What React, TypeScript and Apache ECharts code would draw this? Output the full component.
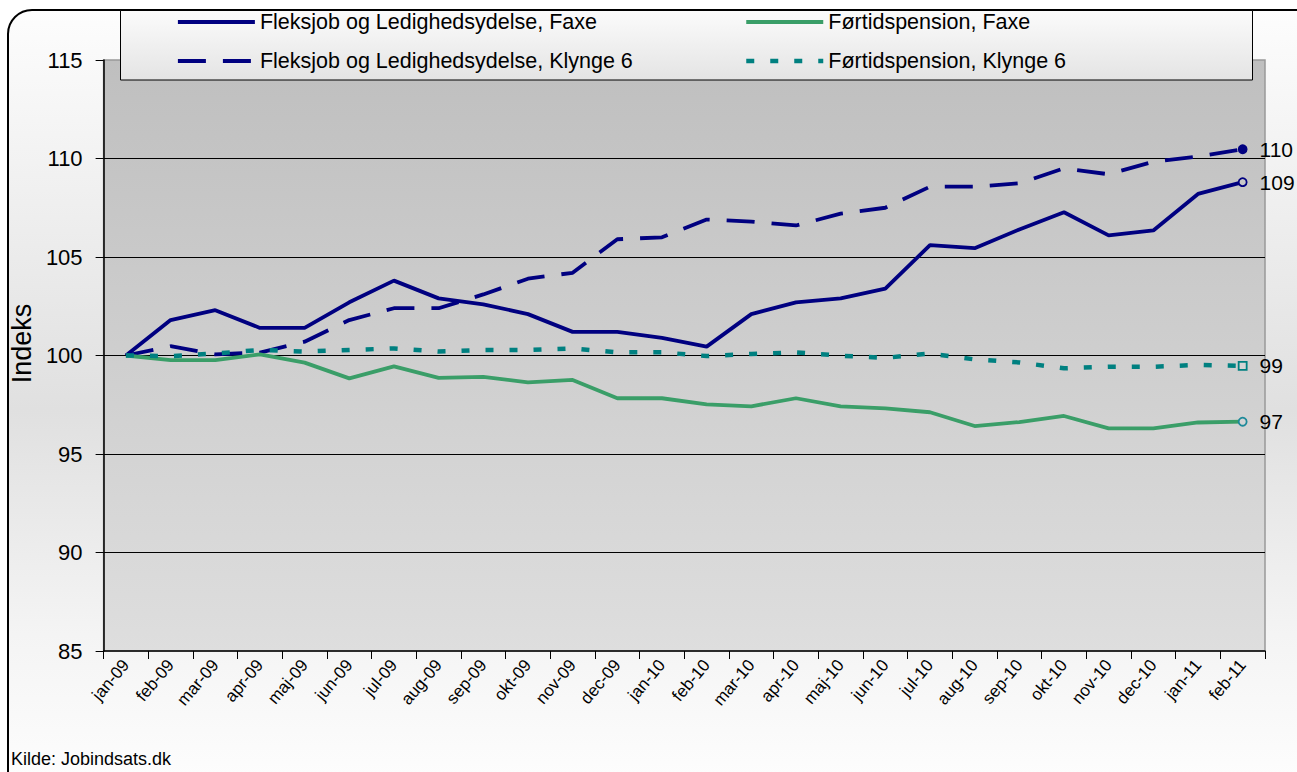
import React, { useEffect, useRef } from 'react';
import * as echarts from 'echarts';

const FONT = 'Liberation Sans, Arial, sans-serif';

const categories = ['jan-09', 'feb-09', 'mar-09', 'apr-09', 'maj-09', 'jun-09', 'jul-09', 'aug-09', 'sep-09', 'okt-09', 'nov-09', 'dec-09', 'jan-10', 'feb-10', 'mar-10', 'apr-10', 'maj-10', 'jun-10', 'jul-10', 'aug-10', 'sep-10', 'okt-10', 'nov-10', 'dec-10', 'jan-11', 'feb-11'];

const flexFaxe = [100, 101.8, 102.3, 101.4, 101.4, 102.7, 103.8, 102.9, 102.6, 102.1, 101.2, 101.2, 100.9, 100.45, 102.1, 102.7, 102.9, 103.4, 105.6, 105.45, 106.4, 107.27, 106.1, 106.35, 108.2, 108.8];
const flexKlynge = [100, 100.47, 100.06, 100.15, 100.7, 101.8, 102.4, 102.4, 103.1, 103.9, 104.2, 105.9, 106.0, 106.9, 106.8, 106.6, 107.2, 107.5, 108.57, 108.57, 108.74, 109.5, 109.2, 109.84, 110.1, 110.47];
const forFaxe = [100, 99.77, 99.77, 100.06, 99.64, 98.84, 99.45, 98.86, 98.92, 98.64, 98.76, 97.83, 97.83, 97.52, 97.42, 97.83, 97.42, 97.32, 97.12, 96.42, 96.62, 96.93, 96.3, 96.3, 96.6, 96.64];
const forKlynge = [100, 99.97, 100.1, 100.28, 100.2, 100.28, 100.36, 100.2, 100.28, 100.28, 100.36, 100.16, 100.16, 99.97, 100.08, 100.16, 99.99, 99.88, 100.1, 99.8, 99.65, 99.35, 99.43, 99.43, 99.52, 99.47];

const names = [
  'Fleksjob og Ledighedsydelse, Faxe',
  'Fleksjob og Ledighedsydelse, Klynge 6',
  'Førtidspension, Faxe',
  'Førtidspension, Klynge 6',
];
const yTicks = { min: 85, max: 115, interval: 5 };
const source = 'Kilde: Jobindsats.dk';

const NAVY = '#000080';
const GREEN = '#3a9e68';
const TEAL = '#008080';

const widths = [3.8, 3.8, 3.8, 4.5];
const dashes: (number[] | 'solid')[] = ['solid', [28, 17], 'solid', [8, 16]];
const colors = [NAVY, NAVY, GREEN, TEAL];

function endMark(vals: number[], symbol: string, stroke: string, fill: string) {
  const last = vals.length - 1;
  return {
    silent: true,
    animation: false,
    data: [
      {
        coord: [categories[last], vals[last]],
        value: Math.round(vals[last]),
        symbol,
        symbolSize: 8,
        itemStyle: { color: fill, borderColor: stroke, borderWidth: 1.8 },
      },
    ],
    label: {
      show: true,
      position: 'right',
      distance: 12,
      formatter: '{c}',
      color: '#000',
      fontSize: 21,
      fontFamily: FONT,
    },
  };
}

export default function App() {
  const ref = useRef<HTMLDivElement>(null);
  useEffect(() => {
    document.body.style.margin = '0';
    const chart = echarts.init(ref.current!, null, { renderer: 'svg' });
    const legendItem = (i: number) => ({
      name: names[i],
      lineStyle: { width: widths[i], color: colors[i], type: dashes[i] },
    });
    const legendCommon = {
      orient: 'vertical',
      top: 11,
      itemWidth: 77,
      itemHeight: 20,
      itemGap: 17,
      padding: 0,
      z: 8,
      itemStyle: { opacity: 0 },
      textStyle: { fontSize: 21.5, color: '#000', fontFamily: FONT },
      selectedMode: false,
    };
    chart.setOption({
      animation: false,
      textStyle: { fontFamily: FONT },
      graphic: [
        {
          type: 'rect',
          z: -10,
          shape: { x: 8, y: 10, width: 1330, height: 800, r: 24 },
          style: {
            fill: new echarts.graphic.LinearGradient(0, 0, 0, 1, [
              { offset: 0, color: '#fdfdfd' },
              { offset: 0.5, color: '#e0e0e0' },
              { offset: 0.78, color: '#f4f4f4' },
              { offset: 1, color: '#ffffff' },
            ]),
            stroke: '#000',
            lineWidth: 2,
          },
        },
        {
          type: 'rect',
          z: 5,
          shape: { x: 120.5, y: 10.5, width: 1132, height: 69.5 },
          style: {
            fill: new echarts.graphic.LinearGradient(0, 0, 0, 1, [
              { offset: 0, color: '#fbfbfb' },
              { offset: 1, color: '#e4e4e4' },
            ]),
            stroke: '#000',
            lineWidth: 1,
          },
        },
        {
          type: 'text',
          z: 5,
          left: 11,
          top: 750,
          style: { text: source, font: `18px ${FONT}`, fill: '#000' },
        },
      ],
      legend: [
        { ...legendCommon, left: 176, data: [legendItem(0), legendItem(1)] },
        { ...legendCommon, left: 744, data: [legendItem(2), legendItem(3)] },
      ],
      grid: {
        left: 101,
        right: 32,
        top: 60,
        bottom: 121,
        show: true,
        borderColor: '#999',
        borderWidth: 1.5,
        backgroundColor: new echarts.graphic.LinearGradient(0, 0, 0, 1, [
          { offset: 0, color: '#bfbfbf' },
          { offset: 1, color: '#dedede' },
        ]),
      },
      xAxis: {
        type: 'category',
        data: categories,
        boundaryGap: true,
        axisLine: { lineStyle: { color: '#000', width: 1.5 } },
        axisTick: { show: true, interval: 0, length: 8, lineStyle: { color: '#000' } },
        axisLabel: { interval: 0, rotate: 50, fontSize: 17, margin: 11, color: '#000', fontFamily: FONT },
        splitLine: { show: false },
      },
      yAxis: {
        type: 'value',
        min: yTicks.min,
        max: yTicks.max,
        interval: yTicks.interval,
        name: 'Indeks',
        nameLocation: 'middle',
        nameGap: 67,
        nameTextStyle: { fontSize: 27, color: '#000', fontFamily: FONT, padding: [0, 0, 0, 24] },
        axisLine: { show: true, lineStyle: { color: '#000', width: 1.5 } },
        axisTick: { show: true, length: 8, lineStyle: { color: '#000' } },
        axisLabel: { fontSize: 22, margin: 21, color: '#000', fontFamily: FONT },
        splitLine: { show: true, showMinLine: false, showMaxLine: false, lineStyle: { color: '#000', width: 1 } },
      },
      series: [
        {
          name: names[0],
          type: 'line',
          data: flexFaxe,
          symbol: 'none',
          lineStyle: { color: NAVY, width: widths[0] },
          itemStyle: { color: NAVY },
          markPoint: endMark(flexFaxe, 'circle', NAVY, '#c8c8c8'),
        },
        {
          name: names[1],
          type: 'line',
          data: flexKlynge,
          symbol: 'none',
          lineStyle: { color: NAVY, width: widths[1], type: dashes[1] },
          itemStyle: { color: NAVY },
          markPoint: endMark(flexKlynge, 'circle', NAVY, NAVY),
        },
        {
          name: names[2],
          type: 'line',
          data: forFaxe,
          symbol: 'none',
          lineStyle: { color: GREEN, width: widths[2] },
          itemStyle: { color: GREEN },
          markPoint: endMark(forFaxe, 'circle', '#1e8a9a', '#d4d4d4'),
        },
        {
          name: names[3],
          type: 'line',
          data: forKlynge,
          symbol: 'none',
          lineStyle: { color: TEAL, width: widths[3], type: dashes[3] },
          itemStyle: { color: TEAL },
          markPoint: endMark(forKlynge, 'rect', TEAL, '#d4d4d4'),
        },
      ],
    });
    return () => chart.dispose();
  }, []);
  return <div ref={ref} style={{ width: 1297, height: 772 }} />;
}
